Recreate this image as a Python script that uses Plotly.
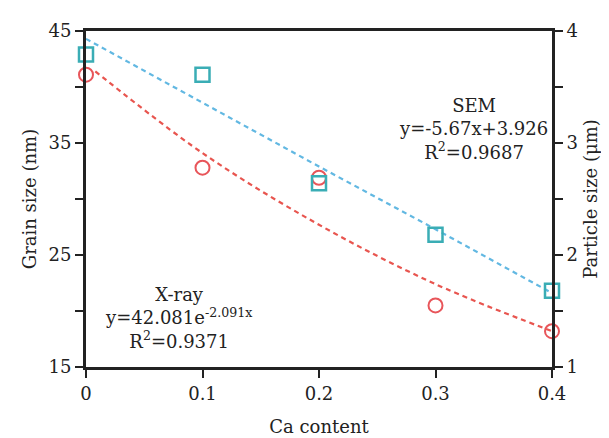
import plotly.graph_objects as go

# Data
ca_content = [0, 0.1, 0.2, 0.3, 0.4]
grain_size_xray = [41.1, 32.8, 31.9, 20.5, 18.2]      # nm, left axis (circles)
particle_size_sem = [3.79, 3.61, 2.64, 2.18, 1.68]    # µm, right axis (squares)

xray_fit_x = [0.008, 0.1, 0.2, 0.3, 0.4]
xray_fit_y = [41.4, 34.1, 27.7, 22.4, 18.2]           # exponential trend (nm)
sem_fit_x = [0, 0.1, 0.2, 0.3, 0.4]
sem_fit_y = [3.93, 3.36, 2.79, 2.23, 1.66]            # linear trend (µm)

x_ticks = [0, 0.1, 0.2, 0.3, 0.4]
x_ticktext = ["0", "0.1", "0.2", "0.3", "0.4"]
y1_ticks = [15, 25, 35, 45]
y1_ticktext = ["15", "25", "35", "45"]
y2_ticks = [1, 2, 3, 4]
y2_ticktext = ["1", "2", "3", "4"]

RED = "#e8555a"
RED_LINE = "#e8554f"
TEAL = "#3aadb5"
BLUE_LINE = "#62b8e2"
AX = "#222222"
FONT = "DejaVu Serif"

W, H = 609, 438
ml, mr, mt, mb = 78, 65, 16, 74
pw, ph = W - ml - mr, H - mt - mb


def px(xp):
    return (xp - ml) / pw


def py(yp):
    return 1 - (yp - mt) / ph


fig = go.Figure()

fig.add_trace(go.Scatter(
    x=sem_fit_x, y=sem_fit_y, yaxis="y2", mode="lines",
    line=dict(color=BLUE_LINE, width=2.2, dash="5px,4px"), cliponaxis=False))
fig.add_trace(go.Scatter(
    x=xray_fit_x, y=xray_fit_y, mode="lines",
    line=dict(color=RED_LINE, width=2.2, dash="5px,4px", shape="spline"), cliponaxis=False))
fig.add_trace(go.Scatter(
    x=ca_content, y=particle_size_sem, yaxis="y2", mode="markers",
    marker=dict(symbol="square-open", size=14, color=TEAL, line=dict(width=2.5, color=TEAL)),
    cliponaxis=False))
fig.add_trace(go.Scatter(
    x=ca_content, y=grain_size_xray, mode="markers",
    marker=dict(symbol="circle-open", size=14, color=RED, line=dict(width=2, color=RED)),
    cliponaxis=False))

fig.add_annotation(
    x=px(465), y=py(118), xref="paper", yref="paper", showarrow=False,
    xanchor="center", yanchor="middle",
    text="SEM<br>y=-5.67x+3.926<br>R<sup>2</sup>=0.9687",
    font=dict(family=FONT, size=18, color=AX), align="center")
fig.add_annotation(
    x=px(170), y=py(313), xref="paper", yref="paper", showarrow=False,
    xanchor="center", yanchor="middle",
    text="X-ray<br>y=42.081e<sup>-2.091x</sup><br>R<sup>2</sup>=0.9371",
    font=dict(family=FONT, size=18, color=AX), align="center")

axis_common = dict(
    showline=True, linewidth=3, linecolor=AX, ticks="outside", ticklen=8,
    tickwidth=2, tickcolor=AX, showgrid=False, zeroline=False,
    tickfont=dict(family=FONT, size=18, color=AX))
minor_common = dict(ticks="outside", ticklen=8, tickwidth=2, tickcolor=AX, showgrid=False)

fig.update_layout(
    width=W, height=H,
    margin=dict(l=ml, r=mr, t=mt, b=mb),
    plot_bgcolor="white", paper_bgcolor="white", showlegend=False,
    font=dict(family=FONT, size=18, color=AX),
    xaxis=dict(range=[0, 0.4], tickmode="array", tickvals=x_ticks, ticktext=x_ticktext,
               mirror=True,
               title=dict(text="Ca content", font=dict(family=FONT, size=18, color=AX), standoff=18),
               **axis_common),
    yaxis=dict(range=[15, 45], tickmode="array", tickvals=y1_ticks, ticktext=y1_ticktext,
               minor=dict(dtick=5, tick0=15, **minor_common),
               title=dict(text="Grain size (nm)", font=dict(family=FONT, size=18, color=AX), standoff=8),
               **axis_common),
    yaxis2=dict(range=[1, 4], tickmode="array", tickvals=y2_ticks, ticktext=y2_ticktext,
                minor=dict(dtick=0.5, tick0=1, **minor_common),
                overlaying="y", side="right",
                title=dict(text="Particle size (μm)", font=dict(family=FONT, size=18, color=AX), standoff=8),
                **axis_common),
)

fig.write_html("out.html")
